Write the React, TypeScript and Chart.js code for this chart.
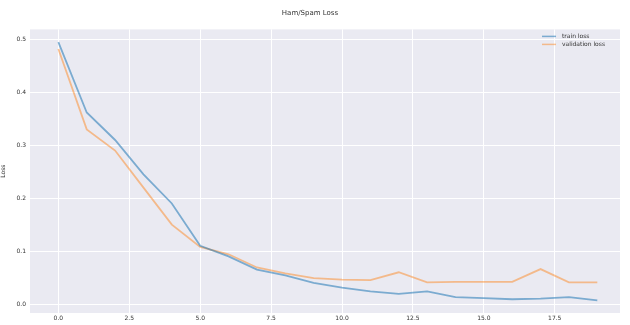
import React, { useEffect, useRef } from "react";
import { Chart, registerables } from "chart.js";

Chart.register(...registerables);

const epochs = [0, 1, 2, 3, 4, 5, 6, 7, 8, 9, 10, 11, 12, 13, 14, 15, 16, 17, 18, 19];
const trainLoss = [0.495, 0.362, 0.31, 0.245, 0.19, 0.11, 0.09, 0.065, 0.054, 0.04, 0.031, 0.024, 0.019, 0.024, 0.013, 0.011, 0.009, 0.01, 0.013, 0.007];
const valLoss = [0.482, 0.33, 0.29, 0.22, 0.15, 0.108, 0.094, 0.069, 0.058, 0.049, 0.046, 0.045, 0.06, 0.041, 0.042, 0.042, 0.042, 0.066, 0.041, 0.041];
const xTicks = [0, 2.5, 5, 7.5, 10, 12.5, 15, 17.5];
const yTicks = [0, 0.1, 0.2, 0.3, 0.4, 0.5];
const seriesNames = ["train loss", "validation loss"];

const bgPlugin = {
  id: "plotBg",
  beforeDraw(chart: any) {
    const { ctx, chartArea } = chart;
    ctx.save();
    ctx.fillStyle = "#EAEAF2";
    ctx.fillRect(chartArea.left, chartArea.top, chartArea.right - chartArea.left, chartArea.bottom - chartArea.top);
    ctx.restore();
  },
};

const legendPlugin = {
  id: "innerLegend",
  afterDraw(chart: any) {
    const { ctx, chartArea } = chart;
    ctx.save();
    ctx.font = "6px 'DejaVu Sans'";
    ctx.textBaseline = "middle";
    const x0 = chartArea.right - 78;
    chart.data.datasets.forEach((ds: any, i: number) => {
      const y = chartArea.top + 7 + i * 8;
      ctx.strokeStyle = ds.borderColor;
      ctx.lineWidth = 1.5;
      ctx.beginPath();
      ctx.moveTo(x0, y);
      ctx.lineTo(x0 + 14, y);
      ctx.stroke();
      ctx.fillStyle = "#333";
      ctx.fillText(ds.label, x0 + 20, y);
    });
    ctx.restore();
  },
};

export default function App() {
  const ref = useRef<HTMLCanvasElement>(null);
  useEffect(() => {
    document.body.style.margin = "0";
    const font = { family: "DejaVu Sans", size: 6 };
    const chart = new Chart(ref.current!, {
      type: "line",
      data: {
        datasets: [
          {
            label: seriesNames[0],
            data: epochs.map((e, i) => ({ x: e, y: trainLoss[i] })),
            borderColor: "rgba(31,119,180,0.55)",
            backgroundColor: "rgba(31,119,180,0.55)",
            borderWidth: 1.8,
            pointRadius: 0,
            tension: 0,
          },
          {
            label: seriesNames[1],
            data: epochs.map((e, i) => ({ x: e, y: valLoss[i] })),
            borderColor: "rgba(255,127,14,0.45)",
            backgroundColor: "rgba(255,127,14,0.45)",
            borderWidth: 1.8,
            pointRadius: 0,
            tension: 0,
          },
        ],
      },
      options: {
        animation: false,
        responsive: false,
        maintainAspectRatio: false,
        layout: { padding: { left: 0, right: 10, top: 0, bottom: 0 } },
        plugins: {
          title: {
            display: true,
            text: "Ham/Spam Loss",
            color: "#333",
            font: { family: "DejaVu Sans", size: 7, weight: "normal" },
            padding: { top: 9, bottom: 12 },
          },
          legend: { display: false },
          tooltip: { enabled: false },
        },
        scales: {
          x: {
            type: "linear",
            min: -1.0,
            max: 19.8,
            afterBuildTicks: (s: any) => {
              s.ticks = xTicks.map((v) => ({ value: v }));
            },
            afterFit: (s: any) => {
              s.height = 12;
            },
            ticks: {
              color: "#333",
              font,
              padding: 2,
              callback: (v: any) => Number(v).toFixed(1),
            },
            grid: { color: "#ffffff", lineWidth: 1, drawTicks: false },
            border: { display: false },
          },
          y: {
            min: -0.017,
            max: 0.519,
            afterBuildTicks: (s: any) => {
              s.ticks = yTicks.map((v) => ({ value: v }));
            },
            afterFit: (s: any) => {
              s.width = 30;
            },
            title: {
              display: true,
              text: "Loss",
              color: "#333",
              font,
              padding: 0,
            },
            ticks: {
              color: "#333",
              font,
              padding: 4,
              callback: (v: any) => Number(v).toFixed(1),
            },
            grid: { color: "#ffffff", lineWidth: 1, drawTicks: false },
            border: { display: false },
          },
        },
      },
      plugins: [bgPlugin, legendPlugin],
    });
    return () => chart.destroy();
  }, []);
  return (
    <div style={{ width: 630, height: 325, background: "#fff" }}>
      <canvas ref={ref} width={630} height={325} />
    </div>
  );
}
